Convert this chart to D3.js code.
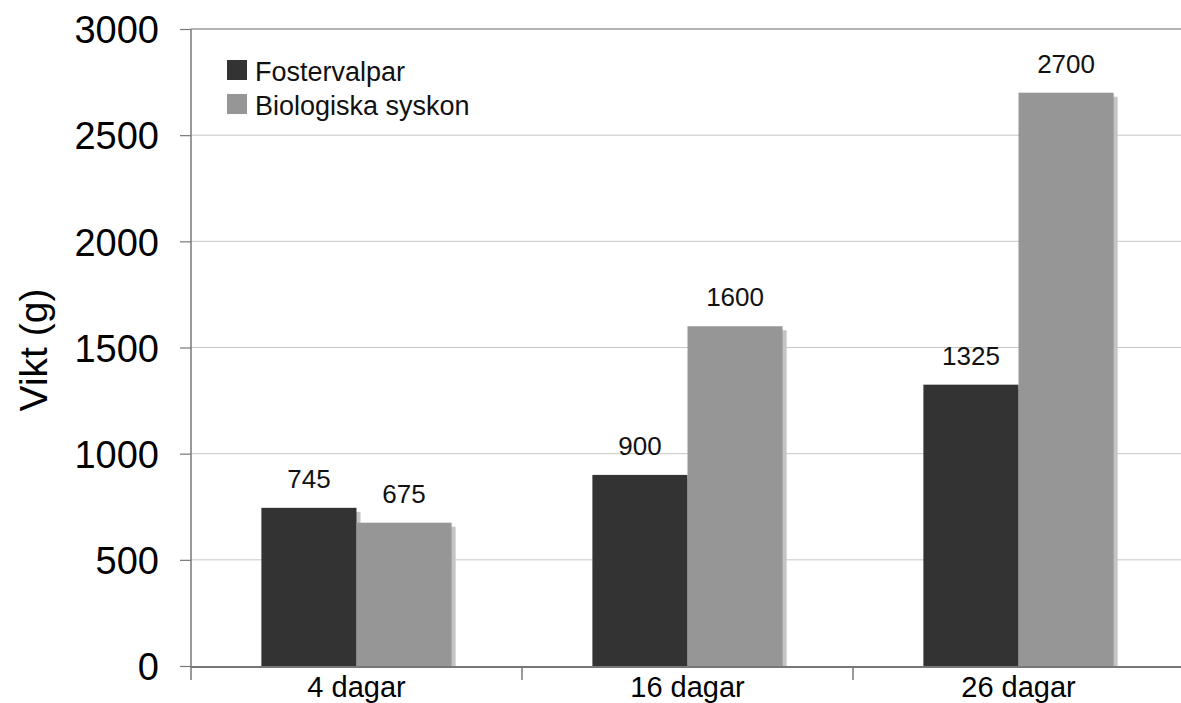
<!DOCTYPE html>
<html>
<head>
<meta charset="utf-8">
<script src="https://cdn.jsdelivr.net/npm/d3@7"></script>
<style>
  html, body { margin: 0; padding: 0; background: #fff; }
  svg { display: block; font-family: "Liberation Sans", Arial, sans-serif; }
</style>
</head>
<body>
<svg id="chart" width="1181" height="703"></svg>
<script>
// Weight (g) of pups at three ages
const categories = ["4 dagar", "16 dagar", "26 dagar"];
const seriesNames = ["Fostervalpar", "Biologiska syskon"];
const fostervalpar = [745, 900, 1325];
const biologiskaSyskon = [675, 1600, 2700];
const yTicks = [0, 500, 1000, 1500, 2000, 2500, 3000];
const yTitle = "Vikt (g)";

const colors = ["#333333", "#969696"];
const shadowColor = "#c4c4c4";

const svg = d3.select("#chart");
const plotLeft = 191, plotTop = 29, plotBottom = 666, plotRight = 1184;

const x = d3.scaleBand().domain(categories).range([plotLeft, plotRight]).paddingInner(0).paddingOuter(0);
const inner = d3.scaleBand().domain(seriesNames).range([0, x.bandwidth()]).paddingInner(0).paddingOuter(0.74);
const y = d3.scaleLinear().domain([0, 3000]).range([plotBottom, plotTop]);

// gridlines
svg.append("g").selectAll("line")
  .data(yTicks.filter(d => d > 0 && d < 3000))
  .join("line")
  .attr("x1", plotLeft).attr("x2", plotRight)
  .attr("y1", d => y(d)).attr("y2", d => y(d))
  .attr("stroke", "#c6c6c6").attr("stroke-width", 1);

// top border line
svg.append("line")
  .attr("x1", plotLeft).attr("x2", plotRight)
  .attr("y1", y(3000)).attr("y2", y(3000))
  .attr("stroke", "#9a9a9a").attr("stroke-width", 1.5);

const rows = categories.map((c, i) => ({
  cat: c,
  vals: [
    { name: seriesNames[0], value: fostervalpar[i], color: colors[0] },
    { name: seriesNames[1], value: biologiskaSyskon[i], color: colors[1] }
  ]
}));

const groups = svg.append("g").selectAll("g")
  .data(rows).join("g")
  .attr("transform", d => `translate(${x(d.cat)},0)`);

// drop shadows
groups.selectAll("rect.shadow")
  .data(d => d.vals).join("rect")
  .attr("class", "shadow")
  .attr("x", d => inner(d.name) + 4)
  .attr("y", d => y(d.value) + 4)
  .attr("width", inner.bandwidth())
  .attr("height", d => y(0) - y(d.value) - 4)
  .attr("fill", shadowColor);

// bars
groups.selectAll("rect.bar")
  .data(d => d.vals).join("rect")
  .attr("class", "bar")
  .attr("x", d => inner(d.name))
  .attr("y", d => y(d.value))
  .attr("width", inner.bandwidth())
  .attr("height", d => y(0) - y(d.value))
  .attr("fill", d => d.color);

// value labels
groups.selectAll("text.val")
  .data(d => d.vals).join("text")
  .attr("class", "val")
  .attr("x", d => inner(d.name) + inner.bandwidth() / 2)
  .attr("y", d => y(d.value) - 20)
  .attr("text-anchor", "middle")
  .attr("font-size", 26)
  .attr("fill", "#111")
  .text(d => d.value);

// y axis
const yAxis = svg.append("g")
  .attr("transform", `translate(${plotLeft},0)`)
  .call(d3.axisLeft(y).tickValues(yTicks).tickSize(11).tickPadding(21).tickFormat(d3.format("d")));
yAxis.select(".domain").attr("stroke", "#777").attr("stroke-width", 1.5)
  .attr("d", `M0,${plotTop}V${plotBottom + 14}`);
yAxis.selectAll(".tick line").attr("stroke", "#777").attr("stroke-width", 1.2);
yAxis.selectAll(".tick text")
  .attr("font-size", 38).attr("fill", "#000")
  .attr("font-family", "'Liberation Sans', Arial, sans-serif")
  .attr("dy", "0.36em");

// x axis
const xAxis = svg.append("g")
  .attr("transform", `translate(0,${plotBottom + 1})`)
  .call(d3.axisBottom(x).tickSize(0).tickPadding(9));
xAxis.select(".domain").attr("stroke", "#777").attr("stroke-width", 2)
  .attr("d", `M${plotLeft},0H${plotRight}`);
xAxis.selectAll(".tick text")
  .attr("font-size", 29).attr("fill", "#000")
  .attr("font-family", "'Liberation Sans', Arial, sans-serif");
// category boundary ticks
xAxis.append("g").selectAll("line")
  .data(categories.slice(1))
  .join("line")
  .attr("x1", d => x(d)).attr("x2", d => x(d))
  .attr("y1", 0).attr("y2", 13)
  .attr("stroke", "#777").attr("stroke-width", 1.5);

// y axis title
svg.append("text")
  .attr("transform", `translate(47,350) rotate(-90)`)
  .attr("text-anchor", "middle")
  .attr("font-size", 39)
  .attr("fill", "#000")
  .text(yTitle);

// legend
const legend = svg.append("g").attr("transform", "translate(227,60)");
const li = legend.selectAll("g").data(seriesNames).join("g")
  .attr("transform", (d, i) => `translate(0,${i * 34})`);
li.append("rect").attr("width", 20).attr("height", 20).attr("fill", (d, i) => colors[i]);
li.append("text").attr("x", 28).attr("y", 21).attr("font-size", 27).attr("fill", "#111").text(d => d);
</script>
</body>
</html>
